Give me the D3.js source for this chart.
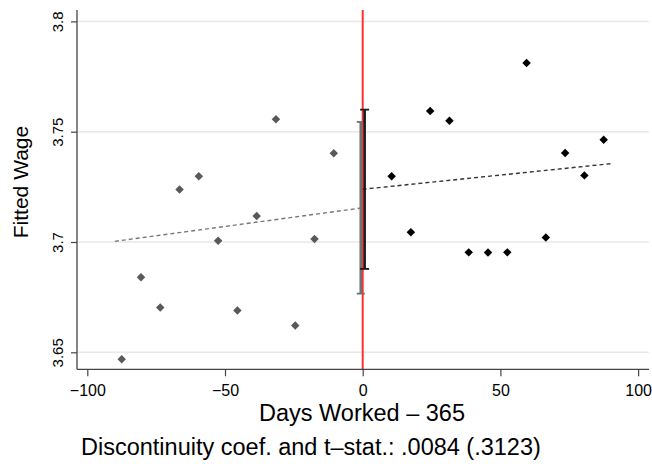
<!DOCTYPE html>
<html>
<head>
<meta charset="utf-8">
<script src="https://cdn.jsdelivr.net/npm/d3@7"></script>
<style>
  html, body { margin: 0; padding: 0; background: #fff; }
  svg { display: block; font-family: "Liberation Sans", Arial, Helvetica, sans-serif; }
</style>
</head>
<body>
<svg id="chart" width="652" height="464"></svg>
<script>
// ---- data ----
const leftX  = [-87.5, -80.5, -73.5, -66.5, -59.5, -52.5, -45.5, -38.5, -31.5, -24.5, -17.5, -10.5];
const leftY  = [3.6468, 3.6840, 3.6703, 3.7238, 3.7298, 3.7006, 3.6690, 3.7118, 3.7556, 3.6621, 3.7014, 3.7402];
const rightX = [10.5, 17.5, 24.5, 31.5, 38.5, 45.5, 52.5, 59.5, 66.5, 73.5, 80.5, 87.5];
const rightY = [3.7298, 3.7044, 3.7594, 3.7550, 3.6953, 3.6952, 3.6953, 3.7811, 3.7020, 3.7403, 3.7302, 3.7464];
const leftFitX  = [-90, 0];
const leftFitY  = [3.7003, 3.7155];
const rightFitX = [0, 90];
const rightFitY = [3.7239, 3.7355];
const leftCI  = [3.6766, 3.7544];
const rightCI = [3.6878, 3.7600];
const ciX = [-0.7, 0.7];
const xTicks = [-100, -50, 0, 50, 100];
const yTicks = [3.65, 3.7, 3.75, 3.8];
const xTitle = "Days Worked – 365";
const yTitle = "Fitted Wage";
const note = "Discontinuity coef. and t–stat.: .0084 (.3123)";

// ---- layout ----
const svg = d3.select("#chart");
const plotLeft = 77, plotRight = 649, plotTop = 10, plotBottom = 369.3;
const x = d3.scaleLinear().domain([-100, 100]).range([87.3, 638.1]);
const y = d3.scaleLinear().domain([3.65, 3.8]).range([352.3, 21.4]);

// gridlines
svg.append("g").selectAll("line").data(yTicks).join("line")
  .attr("x1", plotLeft).attr("x2", plotRight)
  .attr("y1", d => y(d)).attr("y2", d => y(d))
  .attr("stroke", "#e8e8e8").attr("stroke-width", 1.5);

// red vertical line at 0
svg.append("line")
  .attr("x1", x(0)).attr("x2", x(0))
  .attr("y1", plotTop).attr("y2", plotBottom)
  .attr("stroke", "#ff3030").attr("stroke-width", 2);

// fitted dashed lines
const line = d3.line().x(d => x(d[0])).y(d => y(d[1]));
svg.append("path").datum(d3.zip(leftFitX, leftFitY))
  .attr("d", line).attr("fill", "none")
  .attr("stroke", "#777").attr("stroke-width", 1.4).attr("stroke-dasharray", "4,3");
svg.append("path").datum(d3.zip(rightFitX, rightFitY))
  .attr("d", line).attr("fill", "none")
  .attr("stroke", "#333").attr("stroke-width", 1.4).attr("stroke-dasharray", "4,3");

// CI bars
function ciBar(xv, ci, color, capW) {
  const g = svg.append("g").attr("stroke", color);
  g.append("line").attr("x1", x(xv)).attr("x2", x(xv))
    .attr("y1", y(ci[0])).attr("y2", y(ci[1])).attr("stroke-width", 2.6);
  ci.forEach(v => {
    g.append("line").attr("x1", x(xv) - capW / 2).attr("x2", x(xv) + capW / 2)
      .attr("y1", y(v)).attr("y2", y(v)).attr("stroke-width", 1.8);
  });
}
ciBar(ciX[0], leftCI, "#707070", 8);
ciBar(ciX[1], rightCI, "#1a1a1a", 9);

// points
const diamond = d3.symbol().type(d3.symbolSquare).size(36);
svg.append("g").selectAll("path").data(d3.zip(leftX, leftY)).join("path")
  .attr("d", diamond)
  .attr("transform", d => `translate(${x(d[0])},${y(d[1])}) rotate(45)`)
  .attr("fill", "#595959");
svg.append("g").selectAll("path").data(d3.zip(rightX, rightY)).join("path")
  .attr("d", diamond)
  .attr("transform", d => `translate(${x(d[0])},${y(d[1])}) rotate(45)`)
  .attr("fill", "#000");

// axes lines
svg.append("line").attr("x1", plotLeft).attr("x2", plotLeft)
  .attr("y1", plotTop).attr("y2", plotBottom)
  .attr("stroke", "#444").attr("stroke-width", 1.3);
svg.append("line").attr("x1", plotLeft).attr("x2", plotRight)
  .attr("y1", plotBottom).attr("y2", plotBottom)
  .attr("stroke", "#444").attr("stroke-width", 1.3);

// y axis ticks via d3.axisLeft
const yAxis = svg.append("g").attr("transform", `translate(${plotLeft},0)`)
  .call(d3.axisLeft(y).tickValues(yTicks).tickSize(6).tickPadding(0).tickFormat(d3.format("")));
yAxis.select(".domain").remove();
yAxis.selectAll(".tick line").attr("stroke", "#444").attr("stroke-width", 1.2);
yAxis.selectAll(".tick text")
  .attr("x", null).attr("dy", null)
  .attr("transform", "translate(-14,0) rotate(-90)")
  .attr("text-anchor", "middle")
  .attr("font-size", 15).attr("fill", "#000")
  .attr("font-family", "Liberation Sans, Arial, sans-serif");

// x axis ticks
const xAxis = svg.append("g").attr("transform", `translate(0,${plotBottom})`)
  .call(d3.axisBottom(x).tickValues(xTicks).tickSize(7).tickPadding(0).tickFormat(d3.format("")));
xAxis.select(".domain").remove();
xAxis.selectAll(".tick line").attr("stroke", "#444").attr("stroke-width", 1.2);
xAxis.selectAll(".tick text")
  .attr("y", 27).attr("dy", null)
  .attr("font-size", 16).attr("fill", "#000")
  .attr("font-family", "Liberation Sans, Arial, sans-serif");

// titles
svg.append("text")
  .attr("transform", `translate(28,182) rotate(-90)`)
  .attr("text-anchor", "middle").attr("font-size", 21).text(yTitle);
svg.append("text")
  .attr("x", 362).attr("y", 421)
  .attr("text-anchor", "middle").attr("font-size", 23.5).text(xTitle);
svg.append("text")
  .attr("x", 81).attr("y", 455)
  .attr("text-anchor", "start").attr("font-size", 23.5).text(note);
</script>
</body>
</html>
